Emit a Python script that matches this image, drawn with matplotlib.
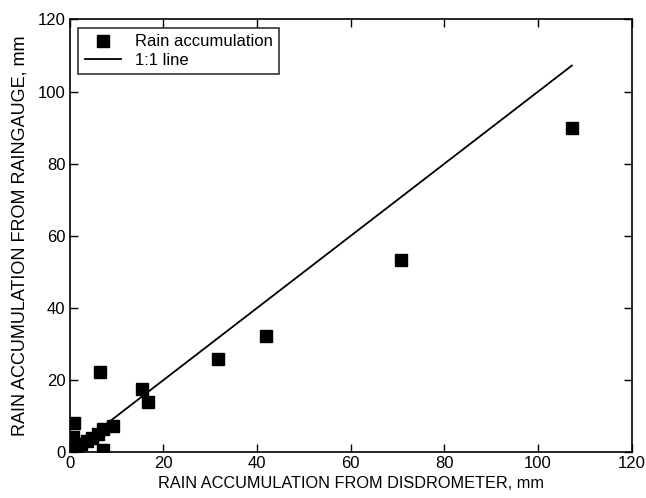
import numpy as np
import matplotlib.pyplot as plt

plt.rcParams['font.family'] = ['Liberation Sans', 'DejaVu Sans']

# rain accumulation, mm (disdrometer vs raingauge)
disdrometer = [0.2, 0.3, 0.5, 0.6, 0.8, 1.2, 1.5, 2.5, 3.6, 4.7, 6.0, 7.0, 9.2,
               7.0, 6.4, 15.4, 16.6, 31.7, 42.0, 70.8, 107.2]
raingauge = [0.3, 1.5, 2.8, 4.2, 8.1, 0.8, 1.8, 2.3, 3.2, 4.0, 5.0, 6.4, 7.3,
             0.6, 22.3, 17.5, 14.0, 25.8, 32.3, 53.3, 90.0]
line_end = 107.2

fig = plt.figure(figsize=(6.46, 4.98), dpi=100)
ax = fig.add_axes([0.108, 0.092, 0.870, 0.869])

ax.plot(disdrometer, raingauge, 's', color='black', markersize=8.5,
        label='Rain accumulation')
ax.plot([0, line_end], [0, line_end], '-', color='black', linewidth=1.3,
        label='1:1 line')

ax.set_xlim(0, 120)
ax.set_ylim(0, 120)
ax.set_xticks(np.arange(0, 121, 20))
ax.set_yticks(np.arange(0, 121, 20))
ax.tick_params(direction='in', length=6, width=1, top=True, right=True,
               labelsize=12, pad=3)
for s in ax.spines.values():
    s.set_linewidth(1.2)

ax.set_xlabel('RAIN ACCUMULATION FROM DISDROMETER, mm', fontsize=11.7, labelpad=3)
ax.set_ylabel('RAIN ACCUMULATION FROM RAINGAUGE, mm', fontsize=13, labelpad=7)

leg = ax.legend(loc='upper left', fontsize=12, frameon=True, fancybox=False,
                edgecolor='black', borderaxespad=0.5, handlelength=2.2,
                labelspacing=0.2, borderpad=0.4)
leg.get_frame().set_linewidth(1.2)

fig.savefig('out.png', dpi=100)
